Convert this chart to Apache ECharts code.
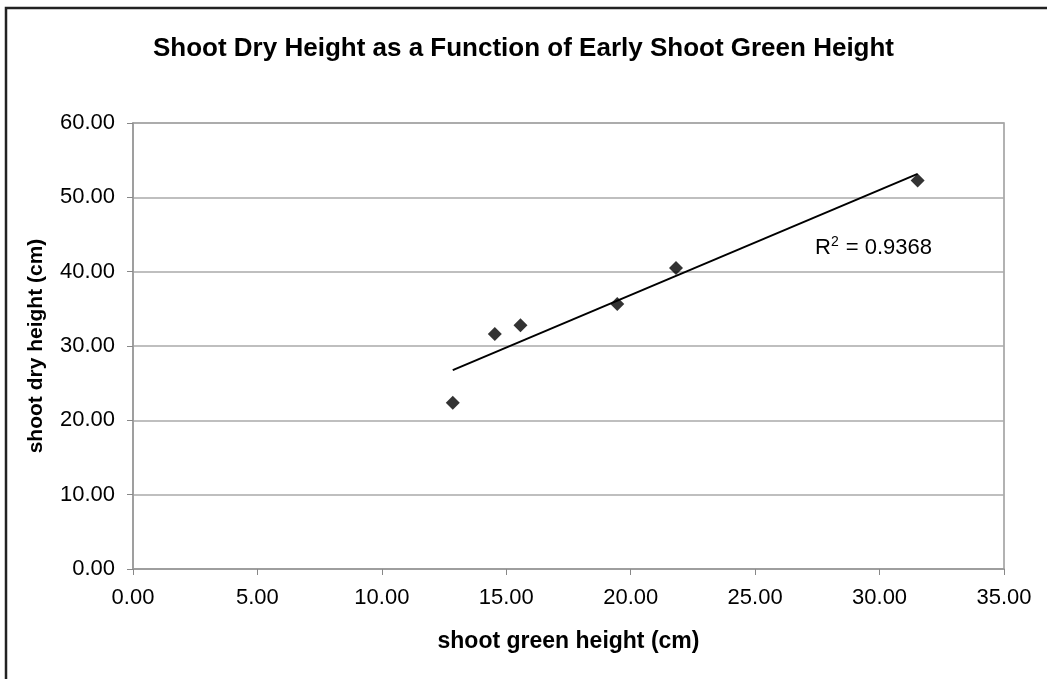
<!DOCTYPE html>
<html>
<head>
<meta charset="utf-8">
<script src="https://cdn.jsdelivr.net/npm/echarts@6/dist/echarts.min.js"></script>
<style>
  html, body { margin: 0; padding: 0; background: #fff; }
  #chart { width: 1047px; height: 679px; }
</style>
</head>
<body>
<div id="chart"></div>
<script>
// values
const greenHeight = [12.85, 14.54, 15.57, 19.46, 21.82, 31.53];
const dryHeight = [22.37, 31.63, 32.80, 35.66, 40.50, 52.26];
const rSquaredText = '0.9368';

// linear trendline (least squares) over the data range, like Excel does
function trend(xs, ys) {
    const n = xs.length;
    const mx = xs.reduce((a, b) => a + b, 0) / n;
    const my = ys.reduce((a, b) => a + b, 0) / n;
    let sxy = 0, sxx = 0;
    for (let i = 0; i < n; i++) {
        sxy += (xs[i] - mx) * (ys[i] - my);
        sxx += (xs[i] - mx) * (xs[i] - mx);
    }
    const slope = sxy / sxx;
    const icpt = my - slope * mx;
    const x0 = Math.min(...xs), x1 = Math.max(...xs);
    return [[x0, slope * x0 + icpt], [x1, slope * x1 + icpt]];
}

const points = greenHeight.map((x, i) => [x, dryHeight[i]]);
const trendPoints = trend(greenHeight, dryHeight);

var myChart = echarts.init(document.getElementById('chart'));
const font = 'Arial, "Liberation Sans", sans-serif';
const option = {
    animation: false,
    textStyle: { fontFamily: font },
    title: {
        text: 'Shoot Dry Height as a Function of Early Shoot Green Height',
        left: 'center',
        top: 31,
        textStyle: { fontSize: 26, fontWeight: 'bold', color: '#000', fontFamily: font }
    },
    grid: {
        left: 133, top: 123, right: 43, bottom: 110,
        show: true, borderColor: '#999', borderWidth: 1.5
    },
    xAxis: {
        type: 'value', min: 0, max: 35, interval: 5,
        name: 'shoot green height (cm)',
        nameLocation: 'middle', nameGap: 61,
        nameTextStyle: { fontSize: 23, fontWeight: 'bold', color: '#000' },
        axisLine: { show: true, lineStyle: { color: '#999', width: 1.5 } },
        axisTick: { show: true, inside: false, length: 6, lineStyle: { color: '#888' } },
        axisLabel: { fontSize: 22, color: '#000', margin: 18, formatter: v => v.toFixed(2) },
        splitLine: { show: false }
    },
    yAxis: {
        type: 'value', min: 0, max: 60, interval: 10,
        name: 'shoot dry height (cm)',
        nameLocation: 'middle', nameGap: 86,
        nameTextStyle: { fontSize: 21, fontWeight: 'bold', color: '#000' },
        axisLine: { show: true, lineStyle: { color: '#999', width: 1.5 } },
        axisTick: { show: true, inside: false, length: 6, lineStyle: { color: '#888' } },
        axisLabel: { fontSize: 22, color: '#000', margin: 18, formatter: v => v.toFixed(2) },
        splitLine: { show: true, lineStyle: { color: '#aaa', width: 1.5 } }
    },
    series: [
        {
            name: 'trend',
            type: 'line',
            data: trendPoints,
            symbol: 'none',
            lineStyle: { color: '#000', width: 2 },
            silent: true,
            z: 2
        },
        {
            name: 'data',
            type: 'scatter',
            data: points,
            symbol: 'diamond',
            symbolSize: [14, 14],
            itemStyle: { color: '#000' },
            z: 3
        }
    ],
    graphic: [
        {
            type: 'rect',
            shape: { x: 6, y: 8, width: 1100, height: 720 },
            style: { fill: 'none', stroke: '#222', lineWidth: 2.5 },
            silent: true
        },
        {
            type: 'text',
            left: 815, top: 235,
            style: {
                text: '{r|R}{s|2}{r| = ' + rSquaredText + '}',
                rich: {
                    r: { fontSize: 22, fontFamily: font, fill: '#000', verticalAlign: 'bottom' },
                    s: { fontSize: 14, fontFamily: font, fill: '#000', verticalAlign: 'top', padding: [0, 1, 10, 0] }
                }
            }
        }
    ]
};
option && myChart.setOption(option);
window.onresize = () => {
    myChart.resize();
};
</script>
</body>
</html>
